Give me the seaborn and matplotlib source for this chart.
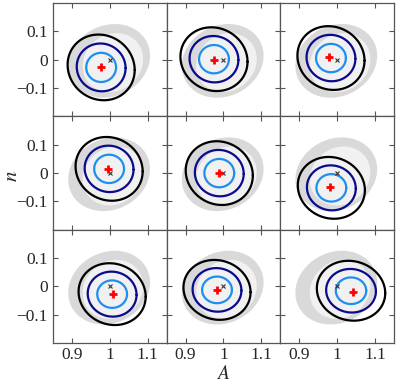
import numpy as np
import matplotlib
matplotlib.use("Agg")
import matplotlib.pyplot as plt
import seaborn as sns

# contour centres (row by row, left to right)
center_A = [0.977, 0.975, 0.984, 0.998, 0.989, 0.985, 1.006, 0.983, 1.037]
center_n = [-0.027, 0.002, 0.006, 0.015, 0.000, -0.052, -0.027, -0.012, -0.015]
sigma_A = [0.026, 0.026, 0.026, 0.026, 0.026, 0.026, 0.026, 0.026, 0.0265]
sigma_n = [0.034, 0.033, 0.033, 0.033, 0.033, 0.032, 0.032, 0.031, 0.031]

# best-fit point (red plus) per panel
best_A = [0.976, 0.975, 0.980, 0.995, 0.988, 0.982, 1.007, 0.982, 1.041]
best_n = [-0.024, -0.001, 0.009, 0.015, -0.001, -0.049, -0.026, -0.011, -0.019]

# true value (x marker)
true_A = 1.0
true_n = 0.0

# confidence levels: 68.3%, 95.4%, 99.7% -> radius in sigma units for 2 params
levels = [0.683, 0.954, 0.997]
level_rho = [0.0, -0.03, -0.08]
level_colors = ["#1e8ff0", "#0a0a8c", "black"]

# shared grey reference region (outer band / inner region)
grey_A = [0.998, 1.008]
grey_n = [-0.004, -0.010]
grey_half_A = [0.108, 0.080]
grey_half_n = [0.130, 0.104]
grey_rho = [0.14, 0.12]
grey_colors = ["#d9d9d9", "#f1f1f1"]

x_ticks = [0.9, 1.0, 1.1]
x_ticklabels = ["0.9", "1", "1.1"]
y_ticks = [-0.1, 0.0, 0.1]
y_ticklabels = ["\u22120.1", "0", "0.1"]

sns.set_style("ticks")
plt.rcParams["font.family"] = ["Liberation Serif", "DejaVu Serif"]
plt.rcParams["mathtext.fontset"] = "stix"


def ellipse(cx, cy, hx, hy, rho, npts=240):
    t = np.linspace(0, 2 * np.pi, npts)
    x = cx + hx * np.cos(t)
    y = cy + hy * (rho * np.cos(t) + np.sqrt(1 - rho ** 2) * np.sin(t))
    return x, y


fig, axes = plt.subplots(3, 3, figsize=(3.99, 3.83), dpi=100, sharex=True, sharey=True)
fig.subplots_adjust(left=0.133, right=0.987, top=0.992, bottom=0.104, wspace=0, hspace=0)

for i, ax in enumerate(axes.flat):
    # grey reference region
    for j in range(2):
        gx, gy = ellipse(grey_A[j], grey_n[j], grey_half_A[j], grey_half_n[j], grey_rho[j])
        ax.fill(gx, gy, color=grey_colors[j], lw=0, zorder=1)

    # confidence contours
    for lev, rho, col in zip(levels, level_rho, level_colors):
        k = np.sqrt(-2 * np.log(1 - lev))
        cx, cy = ellipse(center_A[i], center_n[i], k * sigma_A[i], k * sigma_n[i], rho)
        sns.lineplot(x=cx, y=cy, sort=False, estimator=None, color=col,
                     lw=1.6, ax=ax, zorder=3)

    ax.plot(true_A, true_n, marker="x", color="#333333", ms=3.5, mew=0.8, zorder=4)
    ax.plot(best_A[i], best_n[i], marker="+", color="red", ms=5.5, mew=2, zorder=5)

    ax.set_xlim(0.85, 1.15)
    ax.set_ylim(-0.2, 0.2)
    ax.set_xticks(x_ticks)
    ax.set_yticks(y_ticks)
    ax.tick_params(direction="in", length=3.5, width=0.8, color="#555555",
                   top=True, right=True, labelsize=12.5, pad=4)
    ax.tick_params(axis="x", pad=3)
    for s in ax.spines.values():
        s.set_color("#555555")
        s.set_linewidth(0.9)

for ax in axes[-1, :]:
    ax.set_xticklabels(x_ticklabels)
for ax in axes[:, 0]:
    ax.set_yticklabels(y_ticklabels)

fig.text(0.559, 0.0, "$A$", ha="center", va="bottom", fontsize=14)
fig.text(0.008, 0.54, "$n$", ha="left", va="center", rotation=90, fontsize=15)

fig.savefig("out.png", dpi=100)
